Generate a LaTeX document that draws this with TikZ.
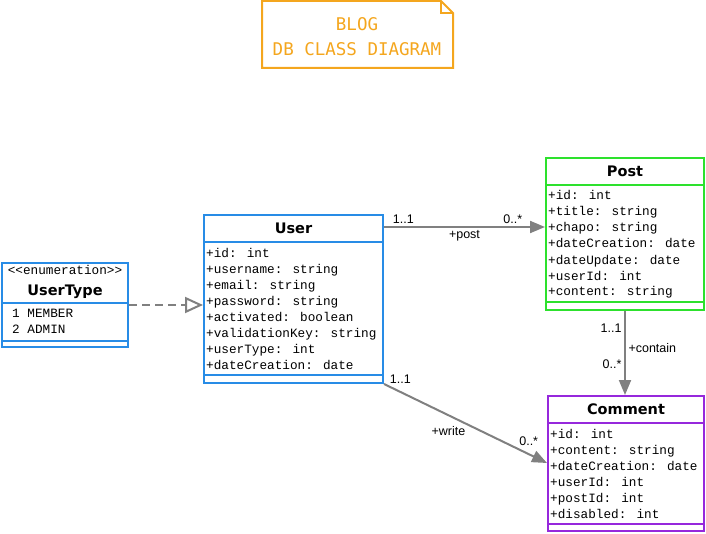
\documentclass[tikz,border=0pt]{standalone}
\usepackage{fontspec}
\usetikzlibrary{arrows.meta}
\newfontfamily\attrfamily{Liberation Mono}
\newfontfamily\namefamily{DejaVu Sans}
\newfontfamily\labelfamily{Liberation Sans}
\newfontfamily\notefamily{DejaVu Sans Mono}
\newcommand{\attrfont}{\attrfamily\fontsize{12.7}{16}\selectfont}
\newcommand{\namefont}{\namefamily\bfseries\fontsize{14.5}{17}\selectfont}
\newcommand{\labelfont}{\labelfamily\fontsize{12.5}{15}\selectfont}
\newcommand{\notefont}{\notefamily\fontsize{17.5}{25}\selectfont}
\definecolor{noteorange}{RGB}{244,166,30}
\definecolor{umlblue}{RGB}{40,140,230}
\definecolor{umlgreen}{RGB}{45,225,45}
\definecolor{umlpurple}{RGB}{150,40,220}
\definecolor{linegray}{RGB}{128,128,128}
\begin{document}
\begin{tikzpicture}[x=1pt,y=-1pt,
	classbox/.style={draw=#1, line width=2pt, fill=white, inner sep=0pt, anchor=north west},
	classname/.style={font=\namefont, anchor=base, inner sep=0pt},
	attrs/.style={font=\attrfont, align=left, anchor=base west, inner sep=0pt},
	assoc/.style={draw=linegray, line width=2pt, -{Triangle[length=15pt,width=12pt]}},
	mult/.style={font=\labelfont, text=black, inner sep=2.5pt}]
\useasboundingbox (0,0) rectangle (706,534);

% title note
\draw[noteorange, line width=2pt] (262,1) -- (441,1) -- (453,13) -- (453,68) -- (262,68) -- cycle;
\draw[noteorange, line width=1.2pt] (441,1) -- (441,13) -- (453,13);
\node[font=\notefont, text=noteorange, align=center] (note) at (357,37) {BLOG\\DB CLASS DIAGRAM};

% UserType (attrs anchored at the baseline of the last line)
\node[classbox=umlblue, minimum width=126pt, minimum height=84pt] (usertype) at (1,262) {};
\node[font=\attrfont, anchor=base, inner sep=0pt] (enum) at ([yshift=-13pt]usertype.north) {<{}<enumeration>{}>};
\node[classname] (usertypename) at ([yshift=-33pt]usertype.north) {UserType};
\draw[umlblue, line width=2pt] ([yshift=-41pt]usertype.north west) -- ([yshift=-41pt]usertype.north east);
\draw[umlblue, line width=2pt] ([yshift=7pt]usertype.south west) -- ([yshift=7pt]usertype.south east);
\node[attrs] (usertypeattrs) at ([xshift=11pt, yshift=-71pt]usertype.north west) {1 MEMBER\\2 ADMIN};

% User
\node[classbox=umlblue, minimum width=179pt, minimum height=168pt] (user) at (203,214) {};
\node[classname] (username) at ([yshift=-19.5pt]user.north) {User};
\draw[umlblue, line width=2pt] ([yshift=-28pt]user.north west) -- ([yshift=-28pt]user.north east);
\draw[umlblue, line width=2pt] ([yshift=9pt]user.south west) -- ([yshift=9pt]user.south east);
\node[attrs] (userattrs) at ([xshift=3pt, yshift=-155pt]user.north west)
	{+id: int\\+username: string\\+email: string\\+password: string\\+activated: boolean\\+validationKey: string\\+userType: int\\+dateCreation: date};

% Post
\node[classbox=umlgreen, minimum width=158pt, minimum height=152pt] (post) at (545,157) {};
\node[classname] (postname) at ([yshift=-19.5pt]post.north) {Post};
\draw[umlgreen, line width=2pt] ([yshift=-28pt]post.north west) -- ([yshift=-28pt]post.north east);
\draw[umlgreen, line width=2pt] ([yshift=9pt]post.south west) -- ([yshift=9pt]post.south east);
\node[attrs] (postattrs) at ([xshift=3pt, yshift=-139pt]post.north west)
	{+id: int\\+title: string\\+chapo: string\\+dateCreation: date\\+dateUpdate: date\\+userId: int\\+content: string};

% Comment
\node[classbox=umlpurple, minimum width=156pt, minimum height=135pt] (comment) at (547,395) {};
\node[classname] (commentname) at ([yshift=-19.5pt]comment.north) {Comment};
\draw[umlpurple, line width=2pt] ([yshift=-28pt]comment.north west) -- ([yshift=-28pt]comment.north east);
\draw[umlpurple, line width=2pt] ([yshift=8pt]comment.south west) -- ([yshift=8pt]comment.south east);
\node[attrs] (commentattrs) at ([xshift=3pt, yshift=-123pt]comment.north west)
	{+id: int\\+content: string\\+dateCreation: date\\+userId: int\\+postId: int\\+disabled: int};

% connectors
\draw[linegray, line width=2pt, dash pattern=on 8pt off 5pt, -{Triangle[open, length=18pt, width=16pt, line width=2pt]}]
	(usertype.east) -- (usertype.east -| user.west);
\coordinate (userpost) at ([yshift=-13pt]user.north east);
\draw[assoc] (userpost) -- (userpost -| post.west)
	node[mult, pos=0.12, above] {1..1}
	node[mult, pos=0.80, above] {0..*}
	node[mult, pos=0.5, below] {+post};
\draw[assoc] (post.south) -- (post.south |- comment.north)
	node[mult, pos=0.2, left] {1..1}
	node[mult, pos=0.44, right] {+contain}
	node[mult, pos=0.63, left] {0..*};
\coordinate (commentin) at ([yshift=-68pt]comment.north west);
\draw[assoc] (user.south east) -- (commentin)
	node[mult, pos=0.1, above=5pt] {1..1}
	node[mult, pos=0.42, below=6pt, xshift=-4pt] {+write}
	node[mult, pos=0.9, above=6pt, xshift=-2pt] {0..*};
\end{tikzpicture}
\end{document}
